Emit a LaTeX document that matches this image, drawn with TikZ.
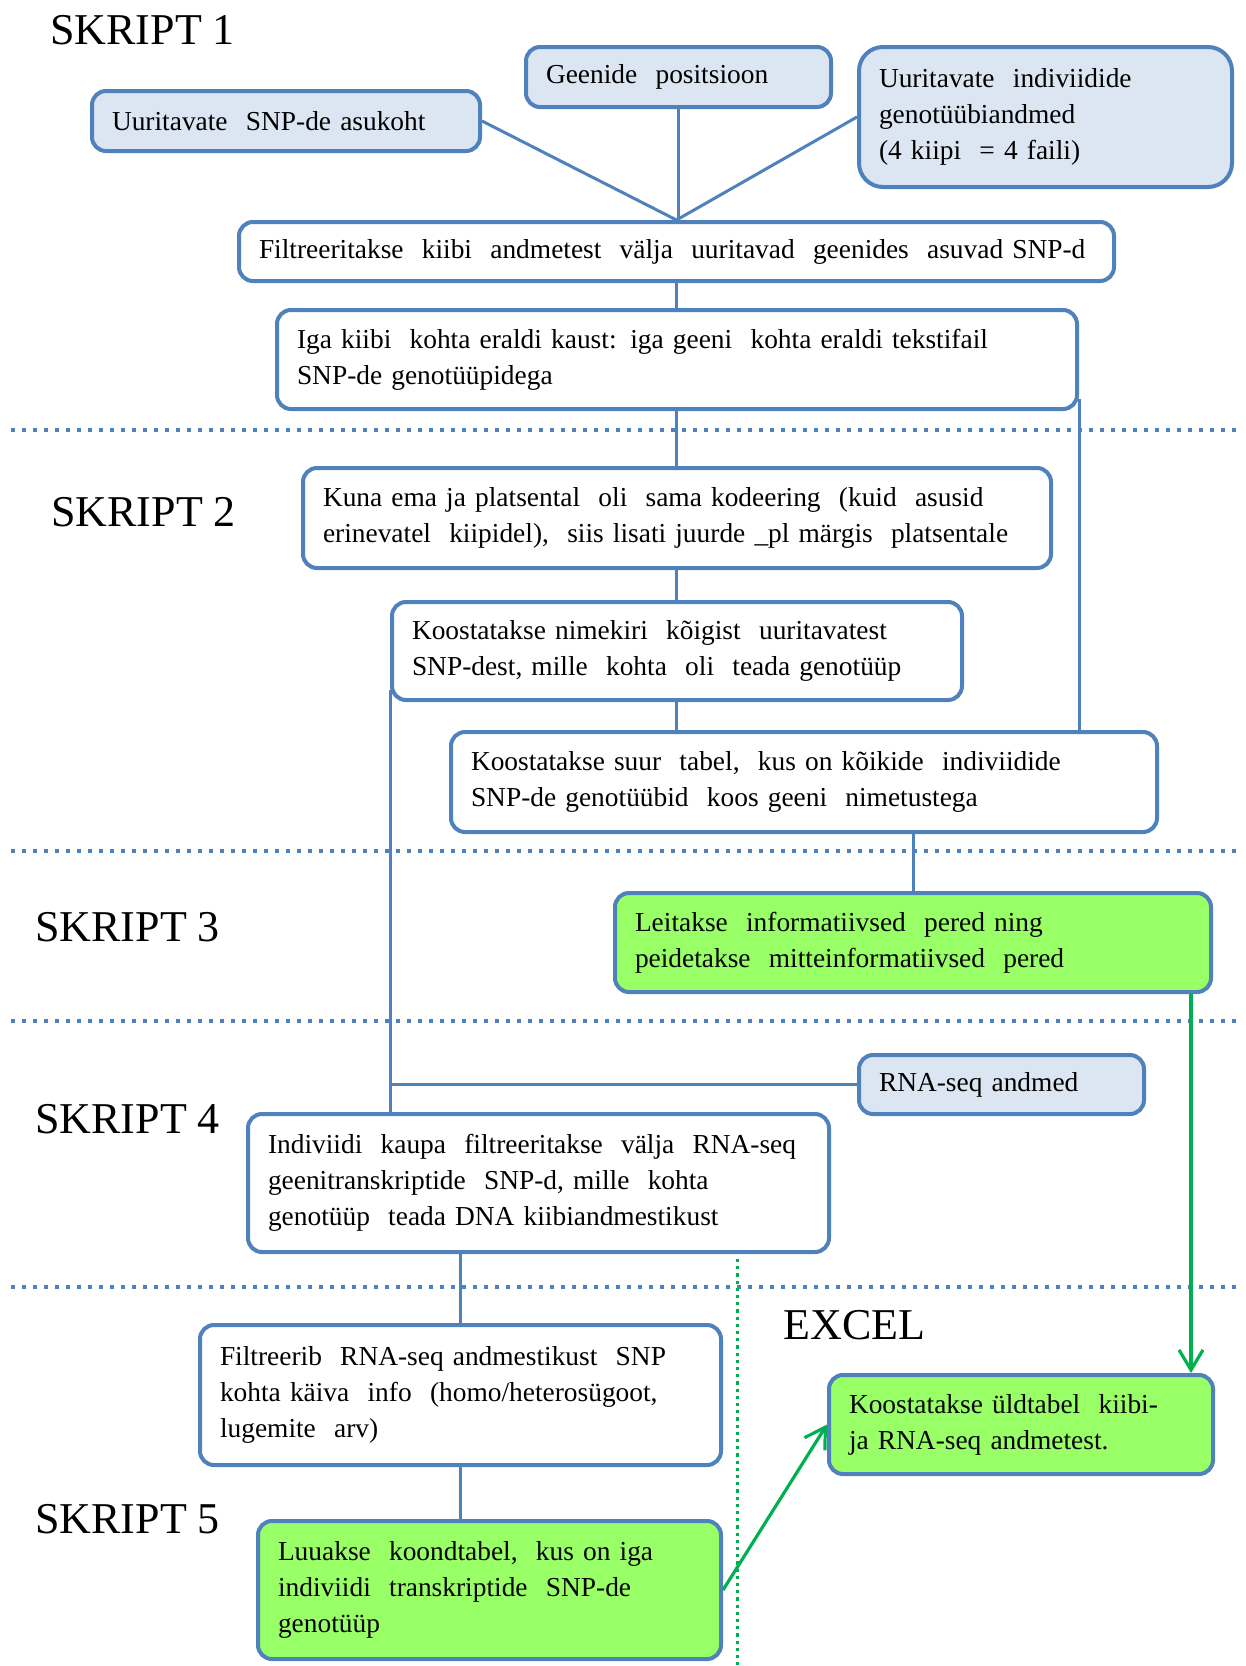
\documentclass[tikz,border=0pt]{standalone}
\usepackage{fontspec}
\setmainfont{Liberation Serif}
\usetikzlibrary{arrows.meta,calc}
\definecolor{bblue}{RGB}{79,129,189}
\definecolor{lblue}{RGB}{220,230,242}
\definecolor{lgreen}{RGB}{153,255,102}
\definecolor{dgreen}{RGB}{0,176,80}
\newcommand\bxfont{\fontsize{13.7}{18}\selectfont\hyphenpenalty 10000 \exhyphenpenalty 10000 }
\tikzset{
 box/.style={draw=bblue, line width=2pt, rounded corners=7pt, fill=white, align=left,
   inner xsep=10pt, inner ysep=0pt, anchor=north west, font=\bxfont},
 inbox/.style={box, fill=lblue},
 gbox/.style={box, fill=lgreen},
 conn/.style={draw=bblue, line width=1.5pt},
 garrow/.style={draw=dgreen, line width=1.6pt, -{Straight Barb[length=10pt,width=12pt,line width=1.6pt]}},
 sep/.style={draw=bblue, line width=2pt, dash pattern=on 2pt off 3.5pt},
 gsep/.style={draw=dgreen, line width=1.5pt, dash pattern=on 1.6pt off 2pt},
 lab/.style={anchor=west, inner sep=0pt, font=\fontsize{22}{26}\selectfont},
}
\begin{document}
\begin{tikzpicture}[x=0.5pt,y=-0.5pt]
\useasboundingbox[fill=white] (0,0) rectangle (1246,1666);

% separators
\draw[sep] (11,430) -- (1237,430);
\draw[sep] (11,851) -- (1237,851);
\draw[sep] (11,1021) -- (1237,1021);
\draw[sep] (11,1287) -- (1237,1287);
\draw[gsep] (737,1259) -- (737,1666);

% labels
\node[lab] (s1) at (50,30) {SKRIPT 1};
\node[lab] (s2) at (51,512) {SKRIPT 2};
\node[lab] (s3) at (35,927) {SKRIPT 3};
\node[lab] (s4) at (35,1119) {SKRIPT 4};
\node[lab] (s5) at (35,1519) {SKRIPT 5};
\node[lab] (ex) at (783,1325) {EXCEL};

% boxes
\node[inbox, text width=174pt, minimum height=30pt] (b1) at (90,89) {Uuritavate\ \ SNP-de asukoht};
\node[inbox, text width=132.5pt, minimum height=30pt] (b2) at (524,45) {Geenide\ \ positsioon};
\node[inbox, rounded corners=12pt, text width=166.5pt, minimum height=70pt] (b3) at (857,45) {Uuritavate\ \ indiviidide\\genotüübiandmed\\(4 kiipi\ \ = 4 faili)};
\node[box, text width=417.5pt, minimum height=29.5pt] (b4) at (237,220) {Filtreeritakse\ \ kiibi\ \ andmetest\ \ välja\ \ uuritavad\ \ geenides\ \ asuvad SNP-d};
\node[box, text width=380pt, minimum height=49.5pt] (b5) at (275,308) {Iga kiibi\ \ kohta eraldi kaust: iga geeni\ \ kohta eraldi tekstifail\\SNP-de genotüüpidega};
\node[box, text width=354pt, minimum height=50pt] (b6) at (301,466) {Kuna ema ja platsental\ \ oli\ \ sama kodeering\ \ (kuid\ \ asusid\\erinevatel\ \ kiipidel),\ \ siis lisati juurde \_pl märgis\ \ platsentale};
\node[box, text width=265pt, minimum height=49pt] (b7) at (390,600) {Koostatakse nimekiri\ \ kõigist\ \ uuritavatest\\SNP-dest, mille\ \ kohta\ \ oli\ \ teada genotüüp};
\node[box, text width=333pt, minimum height=50pt] (b8) at (449,730) {Koostatakse suur\ \ tabel,\ \ kus\ on kõikide\ \ indiviidide\\SNP-de genotüübid\ \ koos geeni\ \ nimetustega};
\node[gbox, text width=278pt, minimum height=49.5pt] (b9) at (613,891) {Leitakse\ \ informatiivsed\ \ pered ning\\peidetakse\ \ mitteinformatiivsed\ \ pered};
\node[inbox, text width=122.5pt, minimum height=29.5pt] (rna) at (857,1053) {RNA-seq andmed};
\node[box, text width=270.5pt, minimum height=69pt] (b10) at (246,1112) {Indiviidi\ \ kaupa\ \ filtreeritakse\ \ välja\ \ RNA-seq\\geenitranskriptide\ \ SNP-d, mille\ \ kohta\\genotüüp\ \ teada DNA kiibiandmestikust};
\node[box, text width=240.5pt, minimum height=70pt] (b11) at (198,1323) {Filtreerib\ \ RNA-seq andmestikust\ \ SNP\\kohta käiva\ \ info\ \ (homo/heterosügoot,\\lugemite\ \ arv)};
\node[gbox, text width=211.5pt, minimum height=69pt] (b12) at (256,1519) {Luuakse\ \ koondtabel,\ \ kus\ on iga\\indiviidi\ \ transkriptide\ \ SNP-de\\genotüüp};
\node[gbox, text width=172pt, minimum height=49.5pt] (exb) at (827,1373) {Koostatakse üldtabel\ \ kiibi-\\ja RNA-seq andmetest.};

% connectors
\draw[conn] (b1.east) -- (b4.north);
\draw[conn] (b2.south) -- (b2.south |- b4.north);
\draw[conn] (b3.west) -- (b4.north);
\draw[conn] (b4.south) -- (b4.south |- b5.north);
\draw[conn] (b4.south |- b5.south) -- (b4.south |- b6.north);
\draw[conn] (b4.south |- b6.south) -- (b4.south |- b7.north);
\draw[conn] (b4.south |- b7.south) -- (b4.south |- b8.north);
\draw[conn] ($(b5.south east)+(0,-12)$) -- (b5.south east |- b8.north);
\draw[conn] (b9.north |- b8.south) -- (b9.north);
\draw[conn] ($(b7.south west)+(0,-12)$) -- (b7.south west |- b10.north);
\draw[conn] (rna.west) -- (rna.west -| b7.south west);
\draw[conn] (b11.north |- b10.south) -- (b11.north);
\draw[conn] (b11.south) -- (b11.south |- b12.north);
\coordinate (gs) at ($(b9.south east)+(-22,0)$);
\draw[garrow] (gs) -- (gs |- exb.north);
\draw[garrow] (b12.east) -- (exb.west);
\end{tikzpicture}
\end{document}
